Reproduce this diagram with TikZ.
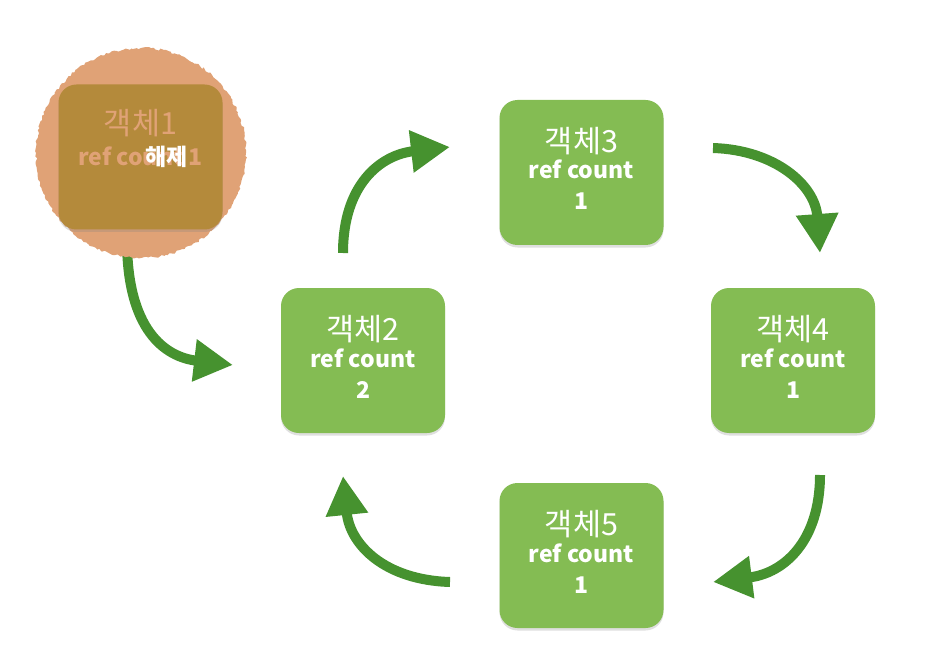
\documentclass[tikz,border=0pt]{standalone}
\usepackage{fontspec}
\newfontfamily\kor{Noto Sans CJK KR}
\usetikzlibrary{arrows.meta,shadows,decorations.pathmorphing}
\definecolor{boxgreen}{HTML}{84BC53}
\definecolor{arrowgreen}{HTML}{46922F}
\definecolor{peach}{HTML}{E0A276}
\definecolor{olivebox}{HTML}{B48A3B}
\tikzset{
  objbox/.style={rectangle, rounded corners=18pt, minimum width=164pt, minimum height=145pt,
    fill=boxgreen, draw=none, inner sep=0pt,
    drop shadow={shadow xshift=0pt, shadow yshift=-2.5pt, opacity=0.25}},
  deadbox/.style={objbox, fill=olivebox},
  ttl/.style={font=\kor\fontsize{30.5}{32}\selectfont, text=white, anchor=base, inner sep=0pt},
  cnt/.style={font=\kor\bfseries\fontsize{23}{26}\selectfont, text=white, anchor=base, inner sep=0pt},
  flow/.style={line width=10pt, draw=arrowgreen, -{Triangle[width=40pt,length=39pt]}},
  halo/.style={circle, minimum size=210pt, fill=peach, inner sep=0pt,
    decorate, decoration={random steps, segment length=2.5pt, amplitude=1.2pt}}
}
\newcommand\mkobj[4]{%
  \node[objbox] (#1) at (#2,#3) {};
  \node[ttl] (#1t) at ([yshift=20pt]#1.center) {객체#4};
  \node[cnt] (#1c) at ([yshift=-6.5pt]#1.center) {ref count};
  \node[cnt] (#1n) at ([yshift=-37.5pt]#1.center) {#4};
}
\begin{document}
\begin{tikzpicture}[x=1pt,y=-1pt]
\useasboundingbox (0,0) rectangle (936,660);
% arrow coordinates
\coordinate (a1s) at (127,240); \coordinate (a1e) at (233,365);
\coordinate (a2s) at (343,253); \coordinate (a2e) at (450,147);
\coordinate (a3s) at (713,148); \coordinate (a3e) at (820,253);
\coordinate (a4s) at (820,475); \coordinate (a4e) at (713,582);
\coordinate (a5s) at (450,582); \coordinate (a5e) at (343,476);
\draw[flow] (a1s) .. controls (127,330) and (165,357) .. (a1e);
\draw[flow] (a2s) .. controls (343,185) and (380,155) .. (a2e);
\draw[flow] (a3s) .. controls (775,150) and (815,185) .. (a3e);
\draw[flow] (a4s) .. controls (820,540) and (785,573) .. (a4e);
\draw[flow] (a5s) .. controls (385,580) and (350,545) .. (a5e);
% released object 1
\node[halo] (c1) at (141,153) {};
\node[deadbox] (o1) at (140.5,157) {};
\node[ttl, text=peach] (o1t) at ([yshift=22pt]o1.center) {객체1};
\node[cnt, text=peach] (o1c) at ([yshift=-9pt]o1.center) {ref count 1};
\node[cnt, text=white] (o1x) at ([xshift=26pt,yshift=-9pt]o1.center) {해제};
% objects 2-5
\node[objbox] (o2) at (363,360.5) {};
\node[ttl] (o2t) at ([yshift=20pt]o2.center) {객체2};
\node[cnt] (o2c) at ([yshift=-6.5pt]o2.center) {ref count};
\node[cnt] (o2n) at ([yshift=-37.5pt]o2.center) {2};
\node[objbox] (o3) at (581.5,172.5) {};
\node[ttl] (o3t) at ([yshift=20pt]o3.center) {객체3};
\node[cnt] (o3c) at ([yshift=-6.5pt]o3.center) {ref count};
\node[cnt] (o3n) at ([yshift=-37.5pt]o3.center) {1};
\node[objbox] (o4) at (793,360.5) {};
\node[ttl] (o4t) at ([yshift=20pt]o4.center) {객체4};
\node[cnt] (o4c) at ([yshift=-6.5pt]o4.center) {ref count};
\node[cnt] (o4n) at ([yshift=-37.5pt]o4.center) {1};
\node[objbox] (o5) at (581.5,555.5) {};
\node[ttl] (o5t) at ([yshift=20pt]o5.center) {객체5};
\node[cnt] (o5c) at ([yshift=-6.5pt]o5.center) {ref count};
\node[cnt] (o5n) at ([yshift=-37.5pt]o5.center) {1};
\end{tikzpicture}
\end{document}
